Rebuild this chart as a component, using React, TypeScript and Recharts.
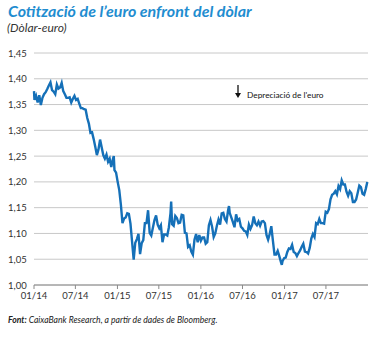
import React from "react";
import { LineChart, Line, XAxis, YAxis, CartesianGrid } from "recharts";

// weekly closes (dollars per euro)
const dates14 = ["01-01", "01-03", "01-10", "01-17", "01-24", "01-31", "02-07", "02-14", "02-21", "02-28", "03-07", "03-14", "03-21", "03-28", "04-04", "04-11", "04-18", "04-25", "05-02", "05-09", "05-16", "05-23", "05-30", "06-06", "06-13", "06-20", "06-27", "07-04", "07-11", "07-18", "07-25", "08-01", "08-08", "08-15", "08-22", "08-29", "09-05", "09-12", "09-19", "09-26", "10-03", "10-10", "10-17", "10-24", "10-31", "11-07", "11-14", "11-21", "11-28", "12-05", "12-12", "12-16", "12-19", "12-26"];
const rates14 = [1.376, 1.359, 1.367, 1.354, 1.368, 1.349, 1.363, 1.370, 1.374, 1.380, 1.387, 1.393, 1.378, 1.375, 1.370, 1.389, 1.381, 1.383, 1.392, 1.376, 1.370, 1.363, 1.363, 1.364, 1.354, 1.361, 1.367, 1.359, 1.361, 1.352, 1.343, 1.343, 1.341, 1.340, 1.324, 1.313, 1.295, 1.296, 1.283, 1.268, 1.252, 1.263, 1.282, 1.267, 1.252, 1.245, 1.253, 1.239, 1.245, 1.229, 1.244, 1.250, 1.223, 1.218];

const dates15 = ["01-02", "01-09", "01-16", "01-23", "01-30", "02-06", "02-13", "02-20", "02-27", "03-06", "03-13", "03-20", "03-27", "04-03", "04-10", "04-17", "04-24", "05-01", "05-08", "05-15", "05-22", "05-29", "06-05", "06-12", "06-19", "06-26", "07-03", "07-10", "07-17", "07-24", "07-31", "08-07", "08-14", "08-21", "08-24", "08-28", "09-04", "09-11", "09-18", "09-25", "10-02", "10-09", "10-16", "10-23", "10-30", "11-06", "11-13", "11-20", "11-27", "12-04", "12-11", "12-18", "12-25"];
const rates15 = [1.200, 1.184, 1.156, 1.120, 1.129, 1.131, 1.139, 1.138, 1.119, 1.084, 1.049, 1.082, 1.089, 1.099, 1.060, 1.081, 1.087, 1.120, 1.120, 1.145, 1.101, 1.096, 1.111, 1.126, 1.135, 1.117, 1.110, 1.116, 1.083, 1.098, 1.098, 1.096, 1.112, 1.139, 1.162, 1.118, 1.115, 1.134, 1.130, 1.120, 1.121, 1.136, 1.135, 1.101, 1.100, 1.074, 1.077, 1.065, 1.059, 1.088, 1.099, 1.083, 1.097];

const dates16 = ["01-01", "01-08", "01-15", "01-22", "01-29", "02-05", "02-12", "02-19", "02-26", "03-04", "03-11", "03-18", "03-25", "04-01", "04-08", "04-15", "04-22", "04-29", "05-03", "05-06", "05-13", "05-20", "05-27", "06-03", "06-10", "06-17", "06-24", "07-01", "07-08", "07-15", "07-22", "07-29", "08-05", "08-12", "08-19", "08-26", "09-02", "09-09", "09-16", "09-23", "09-30", "10-07", "10-14", "10-21", "10-28", "11-04", "11-11", "11-18", "11-25", "12-02", "12-09", "12-16", "12-20", "12-23", "12-30"];
const rates16 = [1.086, 1.092, 1.092, 1.080, 1.083, 1.116, 1.126, 1.113, 1.093, 1.100, 1.115, 1.127, 1.117, 1.139, 1.140, 1.128, 1.123, 1.145, 1.153, 1.140, 1.131, 1.122, 1.112, 1.137, 1.125, 1.128, 1.113, 1.110, 1.105, 1.104, 1.097, 1.117, 1.109, 1.116, 1.133, 1.120, 1.116, 1.123, 1.115, 1.123, 1.124, 1.120, 1.097, 1.088, 1.099, 1.114, 1.086, 1.059, 1.059, 1.066, 1.056, 1.045, 1.039, 1.046, 1.052];

const dates17 = ["01-06", "01-13", "01-20", "01-27", "02-03", "02-10", "02-17", "02-24", "03-03", "03-10", "03-17", "03-24", "03-31", "04-07", "04-14", "04-21", "04-28", "05-05", "05-12", "05-19", "05-26", "06-02", "06-09", "06-16", "06-23", "06-30", "07-07", "07-14", "07-21", "07-28", "08-04", "08-11", "08-18", "08-25", "09-01", "09-08", "09-15", "09-22", "09-29", "10-06", "10-13", "10-20", "10-27", "11-03", "11-10", "11-17", "11-24", "12-01", "12-08", "12-15", "12-22", "12-29"];
const rates17 = [1.053, 1.064, 1.071, 1.070, 1.078, 1.064, 1.062, 1.056, 1.062, 1.067, 1.074, 1.080, 1.065, 1.064, 1.061, 1.072, 1.090, 1.099, 1.093, 1.120, 1.118, 1.128, 1.120, 1.120, 1.119, 1.142, 1.140, 1.147, 1.166, 1.175, 1.177, 1.182, 1.176, 1.192, 1.186, 1.203, 1.195, 1.195, 1.181, 1.173, 1.182, 1.178, 1.161, 1.161, 1.166, 1.179, 1.193, 1.190, 1.177, 1.175, 1.186, 1.200];

const xTickLabels = ["01/14", "07/14", "01/15", "07/15", "01/16", "07/16", "01/17", "07/17"];
const yTicks = [1.0, 1.05, 1.1, 1.15, 1.2, 1.25, 1.3, 1.35, 1.4, 1.45];

const toTime = (year: number, md: string) => {
  const [m, d] = md.split("-").map(Number);
  return Date.UTC(year, m - 1, d);
};

const years: [number, string[], number[]][] = [
  [2014, dates14, rates14],
  [2015, dates15, rates15],
  [2016, dates16, rates16],
  [2017, dates17, rates17],
];

const data = years.flatMap(([y, ds, rs]) =>
  ds.map((d, i) => ({ t: toTime(y, d), rate: rs[i] }))
);

const xTicks = xTickLabels.map((l) => {
  const [m, y] = l.split("/").map(Number);
  return Date.UTC(2000 + y, m - 1, 1);
});

const labelOf = (t: number) => xTickLabels[xTicks.indexOf(t)] ?? "";
const fmtY = (v: number) => v.toFixed(2).replace(".", ",");

const FONT = "Lato, 'Noto Sans', sans-serif";

const YTick = ({ y, payload }: any) => (
  <text x={8} y={y} dy={3.5} fontSize={9.5} fill="#333" fontFamily={FONT}>
    {fmtY(payload.value)}
  </text>
);

const XTick = ({ x, y, payload }: any) => (
  <text x={x} y={y} dy={8} textAnchor="middle" fontSize={9.5} fill="#333" fontFamily={FONT}>
    {labelOf(payload.value)}
  </text>
);

export default function App() {
  return (
    <div style={{ position: "absolute", left: 0, top: 0, width: 376, height: 338, background: "#fff", fontFamily: FONT }}>
      <div style={{ position: "absolute", left: 8, top: 1, fontSize: 16, fontWeight: 700, fontStyle: "italic", color: "#1f8dd0", whiteSpace: "nowrap" }}>
        Cotització de l’euro enfront del dòlar
      </div>
      <div style={{ position: "absolute", left: 7, top: 20, fontSize: 12, fontStyle: "italic", color: "#333" }}>
        (Dòlar-euro)
      </div>
      <div style={{ position: "absolute", left: 0, top: 0 }}>
        <LineChart width={376} height={305} data={data} margin={{ top: 53, right: 8, left: 8, bottom: 0 }}>
          <CartesianGrid vertical={false} stroke="#c8c8c8" />
          <XAxis
            dataKey="t"
            type="number"
            domain={[Date.UTC(2014, 0, 1), Date.UTC(2018, 0, 1)]}
            ticks={xTicks}
            interval={0}
            tick={<XTick />}
            tickSize={4}
            height={20}
            axisLine={{ stroke: "#8a8a8a" }}
            tickLine={{ stroke: "#8a8a8a" }}
          />
          <YAxis
            type="number"
            domain={[1, 1.45]}
            ticks={yTicks}
            width={26}
            axisLine={false}
            tickLine={false}
            tick={<YTick />}
            interval={0}
          />
          <Line
            type="linear"
            dataKey="rate"
            stroke="#1570b8"
            strokeWidth={2.4}
            dot={false}
            isAnimationActive={false}
          />
        </LineChart>
      </div>
      <svg style={{ position: "absolute", left: 0, top: 0 }} width={376} height={338}>
        <line x1={238} y1={85} x2={238} y2={95} stroke="#111" strokeWidth={1.3} />
        <polygon points="235,93 241,93 238,98" fill="#111" />
        <text x={247} y={98} fontSize={8.3} fill="#111" fontFamily={FONT}>
          Depreciació de l'euro
        </text>
      </svg>
      <div style={{ position: "absolute", left: 8, top: 315, fontSize: 8.6, fontStyle: "italic", color: "#222", whiteSpace: "nowrap" }}>
        <b>Font:</b> CaixaBank Research, a partir de dades de Bloomberg.
      </div>
    </div>
  );
}
